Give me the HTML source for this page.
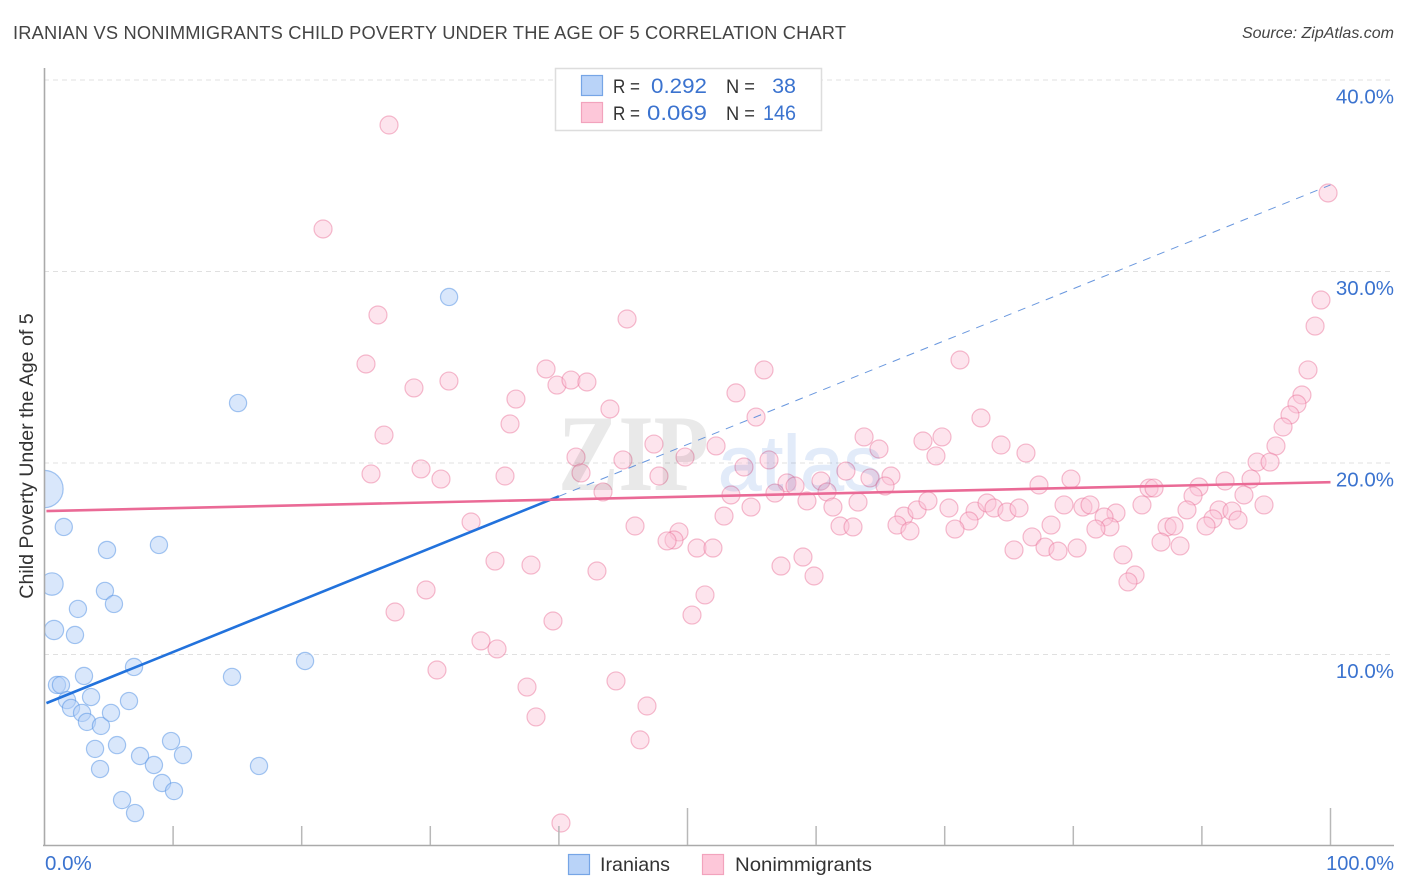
<!DOCTYPE html>
<html lang="en">
<head>
<meta charset="utf-8">
<title>Iranian vs Nonimmigrants Child Poverty Correlation Chart</title>
<style>
html,body{margin:0;padding:0;background:#fff;width:1406px;height:892px;overflow:hidden}
svg{display:block}
text{font-family:"Liberation Sans",sans-serif}
</style>
</head>
<body>
<svg id="chart" width="1406" height="892" viewBox="0 0 1406 892" xmlns="http://www.w3.org/2000/svg">
  <rect x="0" y="0" width="1406" height="892" fill="#ffffff"/>
  <text x="13" y="39" font-size="18.3" fill="#444444" textLength="833" lengthAdjust="spacing">IRANIAN VS NONIMMIGRANTS CHILD POVERTY UNDER THE AGE OF 5 CORRELATION CHART</text>
  <text x="1394" y="38" font-size="16" font-style="italic" fill="#444" text-anchor="end">Source: ZipAtlas.com</text>

  <g id="grid"></g>
  <g id="points-iranians"></g>
  <g id="points-nonimmigrants"></g>
  <g style="mix-blend-mode:multiply">
    <text x="558" y="490" font-size="109" font-weight="bold" fill="#e9e9e9" textLength="151" lengthAdjust="spacingAndGlyphs" style="font-family:'Liberation Serif',serif">ZIP</text>
    <text x="718" y="490" font-size="78" fill="#e2ebf9" stroke="#e2ebf9" stroke-width="1">atlas</text>
  </g>
  <rect x="0" y="60" width="44" height="790" fill="#ffffff"/>
  <text transform="translate(33,456) rotate(-90)" font-size="19.6" fill="#333" text-anchor="middle">Child Poverty Under the Age of 5</text>
  <g id="trends"></g>
  <g id="axes"></g>

  <g>
    <rect x="555.5" y="68.5" width="266" height="62" fill="#ffffff" stroke="#dddddd" stroke-width="1.5"/>
    <rect x="581.5" y="75.5" width="21" height="20" fill="#b9d3f8" stroke="#76a5e6" stroke-width="1.2"/>
    <rect x="581.5" y="102.5" width="21" height="20" fill="#fdc7d9" stroke="#f2a3bd" stroke-width="1.2"/>
    <text x="613" y="93" font-size="19" fill="#333" textLength="27" lengthAdjust="spacingAndGlyphs">R =</text>
    <text x="651" y="93" font-size="21.5" fill="#3b73cf" textLength="56" lengthAdjust="spacingAndGlyphs">0.292</text>
    <text x="726" y="93" font-size="19" fill="#333" textLength="29" lengthAdjust="spacingAndGlyphs">N =</text>
    <text x="796" y="93" font-size="21.5" fill="#3b73cf" text-anchor="end">38</text>
    <text x="613" y="120" font-size="19" fill="#333" textLength="27" lengthAdjust="spacingAndGlyphs">R =</text>
    <text x="647" y="120" font-size="21.5" fill="#3b73cf" textLength="60" lengthAdjust="spacingAndGlyphs">0.069</text>
    <text x="726" y="120" font-size="19" fill="#333" textLength="29" lengthAdjust="spacingAndGlyphs">N =</text>
    <text x="763" y="120" font-size="21.5" fill="#3b73cf" textLength="33" lengthAdjust="spacingAndGlyphs">146</text>
  </g>

  <g>
    <rect x="568.5" y="854.5" width="21" height="20" fill="#b9d3f8" stroke="#76a5e6" stroke-width="1.2"/>
    <text x="600" y="871" font-size="19.5" fill="#333" textLength="70" lengthAdjust="spacingAndGlyphs">Iranians</text>
    <rect x="702.5" y="854.5" width="21" height="20" fill="#fdc7d9" stroke="#f2a3bd" stroke-width="1.2"/>
    <text x="735" y="871" font-size="19.5" fill="#333" textLength="137" lengthAdjust="spacingAndGlyphs">Nonimmigrants</text>
  </g>
</svg>
<script>
// Chart data (x = share of population %, y = child poverty %)
const yTicks = [10, 20, 30, 40];
const yTickLabels = ["10.0%", "20.0%", "30.0%", "40.0%"];
const xTicks = [10, 20, 30, 40, 50, 60, 70, 80, 90, 100];
const xMajorTicks = [50, 100];
const xEndLabels = ["0.0%", "100.0%"];

const iranianX = [0,1.5,4.86,8.9,0.58,4.7,5.4,2.6,0.74,2.37,6.96,3.07,14.58,20.26,0.97,1.28,1.75,3.62,6.57,2.06,2.92,3.3,4.39,5.17,3.93,5.64,4.32,7.43,9.84,10.77,8.51,16.68,9.14,10.07,6.03,7.04,31.46,15.05];
const iranianY = [18.64,16.66,15.46,15.72,13.68,13.32,12.64,12.38,11.28,11.02,9.35,8.88,8.83,9.66,8.41,8.41,7.62,7.78,7.57,7.21,6.95,6.48,6.27,6.95,5.07,5.27,4.02,4.7,5.48,4.75,4.23,4.18,3.29,2.87,2.4,1.72,28.67,23.13];
const iranianWeight = [4.7,1,1,1,1.7,1,1,1,1.25,1,1,1,1,1,1,1,1,1,1,1,1,1,1,1,1,1,1,1,1,1,1,1,1,1,1,1,1,1];

const nonimmigrantX = [26.79,21.66,99.81,99.26,98.8,98.25,25.93,45.3,25,71.19,39,55.95,28.73,31.45,39.85,40.94,42.18,53.77,36.66,43.97,55.33,72.82,97.78,97.39,36.2,26.4,96.85,96.31,69.79,68.31,63.73,74.38,47.39,52.22,64.89,95.76,76.32,69.32,94.29,95.3,41.33,41.72,44.98,49.81,47.78,54.39,56.34,62.32,43.43,57.74,58.36,60.38,64.19,65.82,65.36,60.85,56.8,53.38,59.29,63.26,61.31,54.94,52.84,45.92,49.34,48.95,48.41,50.74,51.98,61.86,62.87,66.83,67.85,68.7,66.29,67.3,58.98,57.27,59.84,42.96,51.36,50.35,39.54,77.33,79.82,70.33,72.36,73.29,73.83,74.84,75.78,71.89,70.8,79.28,80.75,81.3,83.32,82.39,82.85,81.76,78.27,76.79,77.8,78.81,80.29,75.39,83.86,84.8,84.25,85.89,86.28,85.34,89.77,89.31,88.84,91.8,93.82,93.27,94.83,91.33,92.34,90.86,90.32,92.81,87.29,87.83,86.82,88.3,25.39,29.28,30.83,35.81,33.17,35.03,37.83,27.26,29.67,33.94,35.19,30.52,37.52,38.22,44.44,46.31,46.85,40.16];
const nonimmigrantY = [37.65,32.22,34.1,28.51,27.15,24.86,27.73,27.52,25.17,25.38,24.91,24.86,23.92,24.28,24.07,24.33,24.23,23.66,23.34,22.82,22.4,22.35,23.55,23.08,22.04,21.46,22.51,21.88,21.36,21.15,21.36,20.94,20.99,20.89,20.73,20.89,20.52,20.37,20.05,20.05,20.31,19.48,20.16,20.31,19.32,19.79,20.16,19.58,18.49,18.96,18.8,19.06,19.22,19.32,18.8,18.49,18.43,18.33,18.02,17.96,17.7,17.7,17.23,16.71,16.4,15.98,15.93,15.56,15.56,16.71,16.66,17.23,17.55,18.02,16.76,16.45,15.09,14.62,14.1,14.36,13.11,12.06,11.75,18.85,19.16,17.65,17.49,17.91,17.65,17.44,17.65,16.97,16.55,17.81,17.7,17.81,17.39,17.18,16.66,16.55,16.76,16.14,15.61,15.4,15.56,15.46,15.2,14.15,13.79,18.69,18.69,17.81,18.75,18.28,17.55,19.06,19.16,18.33,17.81,17.55,17.49,17.08,16.71,17.02,16.66,16.71,15.87,15.67,19.43,19.69,19.16,19.32,16.92,14.88,14.67,12.22,13.37,10.71,10.29,9.19,8.3,6.74,8.62,5.54,7.31,1.2];

// Regression fits: [intercept, slope]
const iranianFit = [7.42, 0.271];
const nonimmigrantFit = [17.49, 0.0151];

// Axis functions
const SVGNS = "http://www.w3.org/2000/svg";
function sx(v) { return 44.5 + v * 12.86; }
function sy(v) { return 846 - v * 19.15; }
function mk(tag, attrs, parent) {
  const el = document.createElementNS(SVGNS, tag);
  for (const k in attrs) el.setAttribute(k, attrs[k]);
  parent.appendChild(el);
  return el;
}

// Gridlines and value labels
const grid = document.getElementById("grid");
const axes = document.getElementById("axes");
yTicks.forEach(function (t, i) {
  const g = mk("line", { x1: 44, x2: 1394, y1: sy(t), y2: sy(t), stroke: "#e0e0e0", "stroke-width": 1, "stroke-dasharray": "5 4" }, grid);
  
  
  const lbl = mk("text", { x: 1394, y: sy(t) + 23.5, "font-size": 20.5, fill: "#3b73cf", "text-anchor": "end" }, axes);
  lbl.textContent = yTickLabels[i];
  
  
});

// Axis lines
const yAxisLine = mk("line", { x1: 44.5, x2: 44.5, y1: 68, y2: 846, stroke: "#aaaaaa", "stroke-width": 1.6 }, axes);


const xAxisLine = mk("line", { x1: 43, x2: 1394, y1: 845.5, y2: 845.5, stroke: "#aaaaaa", "stroke-width": 1.6 }, axes);



// X ticks
xTicks.forEach(function (t) {
  const tick = mk("line", { x1: sx(t), x2: sx(t), y1: xMajorTicks.includes(t) ? 808 : 826, y2: 845, stroke: "#b8b8b8", "stroke-width": 1.5 }, axes);
  
  
});
const xLabelLeft = mk("text", { x: 45, y: 870, "font-size": 20.5, fill: "#3b73cf" }, axes);
xLabelLeft.textContent = xEndLabels[0];


const xLabelRight = mk("text", { x: 1394, y: 870, "font-size": 20, fill: "#3b73cf", "text-anchor": "end" }, axes);
xLabelRight.textContent = xEndLabels[1];



// Points
const gBlue = document.getElementById("points-iranians");
iranianX.forEach(function (x, i) {
  const c = mk("circle", { cx: sx(x), cy: sy(iranianY[i]), r: 8.6 * Math.sqrt(iranianWeight[i]), fill: "#b4d0f7", "fill-opacity": 0.5, stroke: "#4f8fe3", "stroke-opacity": 0.5, "stroke-width": 1.2 }, gBlue);
  
  
});
const gPink = document.getElementById("points-nonimmigrants");
nonimmigrantX.forEach(function (x, i) {
  const c = mk("circle", { cx: sx(x), cy: sy(nonimmigrantY[i]), r: 9, fill: "#fbc3d6", "fill-opacity": 0.45, stroke: "#e96c94", "stroke-opacity": 0.45, "stroke-width": 1.2 }, gPink);
  
  
});

// Trend lines
const trends = document.getElementById("trends");
function fitY(fit, x) { return fit[0] + fit[1] * x; }
const blueSolid = mk("line", { x1: sx(0.15), y1: sy(fitY(iranianFit, 0.15)), x2: sx(40), y2: sy(fitY(iranianFit, 40)), stroke: "#2272dc", "stroke-width": 2.6 }, trends);


const blueDash = mk("line", { x1: sx(40), y1: sy(fitY(iranianFit, 40)), x2: sx(100), y2: sy(fitY(iranianFit, 100)), stroke: "#4f85d8", "stroke-width": 1, "stroke-opacity": 0.85, "stroke-dasharray": "8 7" }, trends);


const pinkLine = mk("line", { x1: sx(0.15), y1: sy(fitY(nonimmigrantFit, 0.15)), x2: sx(100), y2: sy(fitY(nonimmigrantFit, 100)), stroke: "#ea6a96", "stroke-width": 2.6 }, trends);


</script>
</body>
</html>
